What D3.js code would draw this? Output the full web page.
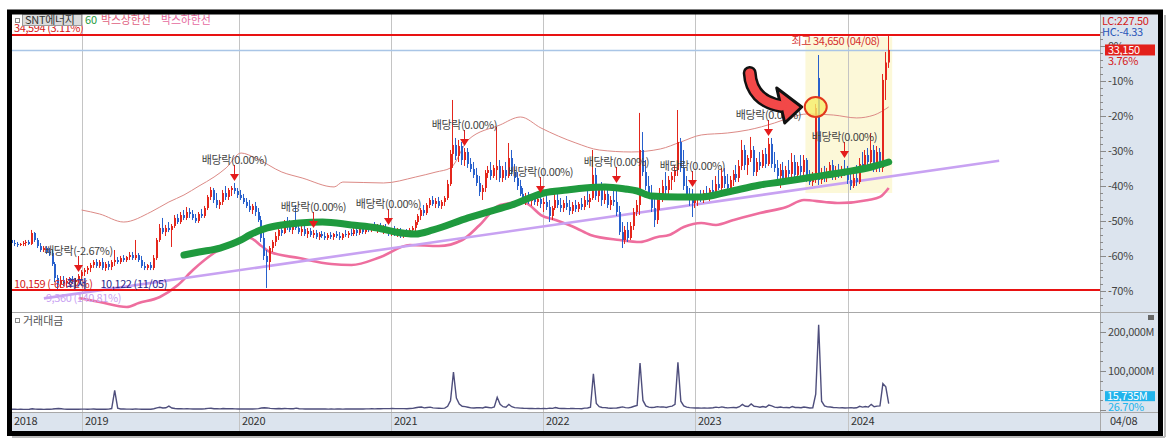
<!DOCTYPE html>
<html><head><meta charset="utf-8">
<script src="https://cdn.jsdelivr.net/npm/d3@7/dist/d3.min.js"></script>
<style>
html,body{margin:0;padding:0;background:#fff;}
svg text{font-family:"Noto Sans CJK KR","Noto Sans",sans-serif;}
</style></head>
<body><svg id="chart" width="1168" height="443"></svg>
<script>
// ---------------- DATA ----------------
const stockName = "SNT에너지";
const legendNames = ["60", "박스상한선", "박스하한선"];
const firstWeek = "2018-07-16";
// weekly candles [open, high, low, close] (원)
const weeklyOHLC = [
[14950,15240,14470,14660],[14660,14950,14370,14570],[14570,14760,14280,14470],[14470,14660,14370,14570],[14570,14850,14370,14660],
[14660,14950,14370,14760],[14760,14950,14470,14570],[14570,15910,14470,15620],[15620,15710,14760,14950],[14950,15140,14180,14370],
[14370,14660,13800,13990],[13990,14370,13800,14180],[14180,14370,13610,13800],[13800,14180,13420,13700],[13700,13990,12460,12650],
[12650,12840,10920,11310],[11310,11600,10122,10730],[10730,11500,10350,11120],[11120,11500,10540,10830],[10830,11310,10450,11020],
[11020,11400,10640,11210],[11210,11500,10730,10920],[10920,11310,10540,11120],[11120,11690,10830,11500],[11500,12070,11120,11880],
[11880,12270,11500,12070],[12070,12460,11690,12270],[12270,12750,11880,12550],[12550,13030,12270,12840],[12840,13130,12270,12460],
[12460,13030,12270,12840],[12840,13220,12070,12270],[12270,12840,11980,12650],[12650,12940,12070,12360],[12360,13030,12070,12840],
[12840,13990,12460,13030],[13030,13320,12650,12840],[12840,13420,12650,13220],[13220,13510,12840,13030],[13030,13420,12840,13320],
[13320,13800,13030,13510],[13510,13800,13030,13220],[13220,14950,13030,13510],[13510,13700,12840,13030],[13030,13420,12270,12460],
[12460,12840,12070,12270],[12270,12650,12070,12550],[12550,12840,12070,12270],[12270,13510,12070,13220],[13220,15140,13030,14950],
[14950,16480,14760,16100],[16100,17060,15520,15710],[15710,16390,15330,16100],[16100,16670,15710,15910],[15910,16480,14280,16290],
[16290,17340,16100,17060],[17060,17440,16480,16670],[16670,17630,16480,17340],[17340,17820,16860,17060],[17060,18110,16860,17630],
[17630,18010,17060,17440],[17440,17820,16860,17060],[17060,17440,16580,16770],[16770,17630,16580,17440],[17440,17920,17060,17250],
[17250,18210,17060,18010],[18010,19260,17820,19070],[19070,20030,18780,19740],[19740,19930,18490,18780],[18780,19450,18010,18300],
[18300,18780,17920,18590],[18590,19740,18300,19450],[19450,20120,18780,19070],[19070,19930,18780,19740],[19740,20120,19160,19930],
[19930,20410,19360,19640],[19640,19930,18970,19260],
[19260,19740,18780,18970],[18970,19360,18400,18590],[18590,18970,18010,18210],[18210,18780,17630,17820],[17820,18400,17440,18210],
[18210,18590,17250,17630],[17630,18010,16670,16860],[16860,17250,14760,15140],[15140,15710,13030,13420],[13420,13990,10350,12840],
[12840,14370,12070,14180],[14180,14950,13800,14760],[14760,15710,14370,15330],[15330,16290,14950,15910],[15910,16480,15330,15620],
[15620,16860,15520,16480],[16480,17150,15910,16190],[16190,16860,15710,15910],[15910,16670,15520,16290],[16290,18300,15910,16100],
[16100,16480,15520,15710],[15710,16290,15330,16000],[16000,16390,15330,15520],[15520,16100,15140,15810],[15810,16100,15240,15430],
[15430,15910,15140,15620],[15620,15910,15040,15240],[15240,15710,14950,15520],[15520,15810,15140,15330],[15330,15710,14950,15140],
[15140,15620,14950,15430],[15430,15710,15040,15240],[15240,15620,14950,15520],[15520,15810,15140,15330],[15330,15710,14950,15140],
[15140,15620,14950,15520],[15520,15910,15240,15430],[15430,15810,15140,15620],[15620,16000,15330,15520],[15520,16100,15330,15910],
[15910,16190,15330,15620],[15620,16100,15430,16000],[16000,16290,15520,15710],[15710,16290,15520,16100],[16100,16480,15710,15910],
[15910,16390,15710,16190],[16190,16670,15810,16000],[16000,16480,15620,16290],[16290,16580,15710,15910],[15910,16390,15520,16100],
[16100,16480,15710,15810],[15810,16190,15330,15620],
[15620,16100,15330,15910],[15910,16290,15330,15520],[15520,16100,15240,15810],[15810,16100,15140,15330],[15330,15910,15140,15710],
[15710,16000,15240,15430],[15430,16100,15240,15910],[15910,16290,15520,16100],[16100,16860,15810,16670],[16670,17440,16390,17250],
[17250,18010,16860,17820],[17820,18300,17250,17530],[17530,18490,17340,18300],[18300,18970,18010,18780],[18780,19160,18210,18400],
[18400,18970,18010,18680],[18680,19070,18010,18210],[18210,18780,17920,18590],[18590,19160,18210,18970],[18970,20700,18780,20310],
[20310,23570,20120,23190],[23190,28360,21850,24050],[24050,24720,22610,23000],[23000,24530,22420,23950],[23950,24340,22130,22610],
[22610,23760,22040,23380],[23380,23760,21850,22230],[22230,22800,21460,21750],[21750,22420,20890,21180],[21180,21850,20120,20410],
[20410,21080,19160,19550],[19550,20220,18780,19930],[19930,21650,19550,21370],[21370,22040,20890,21650],[21650,22420,20700,21080],
[21080,22130,20890,21850],[21650,25770,20700,22040],[22040,22610,20500,20890],[20890,22040,20500,21650],[21650,22420,20700,21080],
[21080,24240,20890,22800],[22800,23570,21080,21460],[21460,22230,20500,20890],[20890,21460,19740,20120],[20120,20700,19160,19360],
[19360,19930,18590,18780],[18780,19450,18300,19160],[19160,19550,18400,18680],[18680,19360,18210,18970],[18970,19360,18300,18590],
[18590,19160,18210,18880],[18880,19260,18010,18400],
[18400,18970,17630,18590],[18590,19160,17820,18110],[18110,18780,16670,17250],[17250,18210,16860,18010],[18010,19740,17820,18780],
[18780,19550,18010,18300],[18300,18970,17630,18010],[18010,18780,17630,18490],[18490,19160,17820,18110],[18110,18780,17340,17730],
[17730,18590,17440,18300],[18300,18780,17630,17920],[17920,18590,17630,18400],[18400,18970,17820,18110],[18110,19160,17820,18780],
[18780,19740,18300,18590],[18590,19360,18010,18970],[18970,23570,18780,21180],[21180,21850,18780,19160],[19160,20220,18590,19740],
[19740,20500,18210,18780],[18780,19930,18400,19360],[19360,19930,18010,18300],[18300,19160,17820,18780],[18780,19740,18210,18590],
[18590,20220,17250,17630],[17630,18210,15430,15710],[15710,16670,14180,14950],[14950,16290,14570,15910],[15910,16670,14760,15140],
[15140,16670,14950,16290],[16290,18010,15910,17630],[17630,18780,17250,18300],[18300,27120,17340,23570],[23570,25290,21080,21460],
[21460,22610,19740,20120],[20120,21080,19160,19450],[19450,20220,17630,18010],[18010,18970,16190,16860],[16860,19360,16480,18780],
[18780,19930,17820,19360],[19360,20700,18590,20120],[20120,21460,19160,19740],[19740,21080,19360,20700],[20700,21460,19740,21080],
[21080,22130,20500,21650],[21650,27400,21080,24340],[24340,24720,21460,21850],[21850,23570,19740,20120],[20120,21080,18780,19160],
[19160,19930,18210,18780],[18780,19830,17150,18490],
[18490,19260,18010,18780],[18780,19360,18210,19070],[19070,19740,18590,18880],[18880,19740,18490,19450],[19450,20120,18780,19160],
[19160,19930,18680,19740],[19740,20700,19160,19550],[19550,21080,18970,20310],[20310,21650,19740,19930],[19930,21850,19550,21080],
[21080,21850,19930,20310],[20310,21270,19550,19930],[19930,21080,19550,20700],[20700,21650,20120,21270],[21270,22130,20500,20890],
[20890,22610,20500,22040],[22040,24530,21650,23570],[23570,24050,21650,22130],[22130,23090,21180,22800],[22800,24820,22420,23570],
[23570,23950,21080,21460],[21460,22800,21080,22420],[22420,23380,21650,22040],[22040,23570,21850,23190],[23190,23760,21850,22230],
[22230,24720,22040,24150],[24150,24720,21850,22230],[22230,23380,21460,21850],[21850,22610,20700,21080],[21080,22230,19930,21650],
[21650,22420,20500,20890],[20890,22040,20500,21650],[21650,22610,20890,21270],[21270,23280,20700,22420],[22420,23090,20890,21180],
[21180,22420,20700,22040],[22040,23090,21080,21460],[21460,23090,20890,22610],[22610,22800,20500,20890],[20890,21650,20220,20500],
[20500,21460,20120,20700],[20700,27980,20410,27590],[30470,32670,20220,20700],[20700,21850,20310,21270],[21270,22040,20500,20890],
[20890,21850,20500,21460],[21460,22420,20890,22130],[22130,22610,20700,21080],[21080,22040,20700,21650],[21650,22230,20890,21270],
[21270,22040,20890,21750],[21750,22610,21080,21460],
[21460,22040,20310,20700],[20700,21460,19740,20120],[20120,21270,19930,20890],[20890,22130,20120,20500],[20500,22800,20310,22230],
[22230,23380,21650,22040],[22040,23570,21650,23090],[23090,23760,21850,22420],[22420,25200,22040,23570],[23570,24050,21460,21850],
[21850,23950,21460,23380],[23380,23760,21460,21850],[21850,30850,21460,30280],[30280,32960,28360,31950],[31950,34650,31430,33150]
];
// weekly trading value (백만원)
const tradingValue = [
1500,1300,1200,1400,1200,1100,1300,2500,1600,1400,1300,1200,1300,1400,2000,2800,3500,2600,1800,1500,1400,1300,1500,1600,1800,
1800,1600,1700,1900,1600,1500,1700,1600,1800,3200,50000,4200,2200,1900,1700,1800,1600,2400,1700,1500,
1400,1500,1400,2600,4800,6500,4500,5200,9500,4600,3300,2600,2800,2400,3000,2500,2200,2100,2400,2200,
2800,3600,4000,2800,2600,2300,3200,2800,2900,2700,2500,2200,
2300,2100,2000,2200,2100,2400,3000,4500,5200,4800,3600,3000,2800,3200,2600,3400,2900,2600,2700,4200,
2600,2300,2200,2100,2000,2200,2000,1900,2100,2000,1800,1900,1800,2000,1900,1800,1900,2000,2100,2300,
2000,2200,2100,2300,2400,2600,2500,2800,2700,3000,2900,3100,
3200,3000,2900,3100,3000,2800,3200,3600,5200,6500,7000,5000,6000,6800,5000,4200,3900,3600,4400,9000,
24000,97000,30000,15000,9000,8000,6500,5000,4500,5200,5500,4800,7000,6000,5000,7500,32000,14000,8000,6500,
14000,8000,5500,4800,4200,3800,3600,3400,3300,3100,3200,3000,
3200,3000,4200,3600,6000,4000,3200,3500,3000,3200,3600,3000,2900,2800,4200,4600,6500,92000,16000,8000,
6000,5500,4500,4000,4200,4500,6000,7500,5500,5000,6500,9000,11000,120000,24000,10000,7000,6000,6500,8000,
7000,7500,6000,8000,9500,14000,122000,22000,10000,7000,5500,5000,
4800,4500,4200,5000,4300,4800,5200,6800,5600,7500,5800,5000,5600,6000,5400,8000,14000,9000,8500,15000,
9000,8000,6500,8500,6500,12000,10000,7000,6000,7000,5500,5800,5200,8500,6000,5800,5200,7000,6000,4800,
5200,40000,218000,22000,10000,7500,7000,6000,5500,5000,5200,4800,
5000,5500,4800,5200,9000,7000,8500,7000,14000,8000,9500,10000,67000,58930,15735
];
// indicator lines: [week index, price]
const ma60Line = [[58,13510],[63,13800],[70,14180],[77,14950],[80,15430],[86,16100],[91,16390],[97,16580],[105,16670],[115,16390],[124,16100],[130,15710],[137,15520],[143,15910],[155,17060],[164,17820],[170,18300],[176,18970],[181,19450],[189,19740],[195,19930],[202,20030],[209,19830],[213,19640],[218,19160],[227,19070],[235,19070],[244,19550],[255,20220],[262,20500],[273,20980],[284,21460],[293,21940],[299,22420]];
const boxUpperLine = [[24,17820],[30,17440],[38,16670],[47,17630],[53,18590],[58,19260],[63,20120],[68,20980],[72,21850],[77,23280],[82,22800],[91,21460],[98,20890],[109,20030],[112,20500],[126,20410],[137,20980],[144,21460],[149,21850],[155,24530],[166,25970],[173,26730],[180,25680],[192,24240],[200,23570],[211,23380],[221,23670],[228,24340],[235,25010],[244,25200],[251,25490],[260,26160],[266,26730],[271,27020],[280,26920],[288,26640],[294,26920],[299,27690]];
const boxLowerLine = [[23,9390],[30,9010],[39,8530],[43,8910],[50,9490],[56,10640],[61,12070],[68,13700],[74,14660],[80,15140],[84,14370],[87,13800],[97,13220],[108,12650],[115,12550],[125,13320],[135,14470],[145,14370],[153,14950],[159,16390],[166,18300],[174,18590],[176,18300],[180,17340],[185,16860],[192,16100],[197,15430],[207,14950],[214,14760],[220,15240],[224,15430],[229,16190],[235,16580],[240,16390],[246,16860],[255,17530],[264,18110],[270,18780],[277,18590],[282,18490],[292,18780],[296,19070],[299,19930]];
const trendLine = [["2018-10-01",9360],["2024-12-30",22540]];
const trendLabel = "9,360 (140.81%)";
// dividend (배당락) weeks and rates
const dividendWeeks = [23,75,102,128,154,180,206,232,258,284];
const dividendRates = ["-2.67","0.00","0.00","0.00","0.00","0.00","0.00","0.00","0.00","0.00"];
// horizontal price lines and references
const priceLines = [34594, 10159];
const priceLineLabels = ["34,594 (3.11%)", "10,159 (-69.72%)"];
const refPrice = 33550;
const lastClose = 33150, lastChangeText = "3.76%";
const highInfo = {week: 299, price: 34650, text: "최고 34,650 (04/08)"};
const lowInfo = {week: 16, price: 10122, text: "10,122 (11/05)"};
const lcText = "LC:227.50", hcText = "HC:-4.33";
const lastValueText = "15,735M", lastValueRatio = "26.70%";
const yearLabels = ["2018","2019","2020","2021","2022","2023","2024"];
const lastDateLabel = "04/08";
const pctTicks = [0,-10,-20,-30,-40,-50,-60,-70];
const volTicks = [100000, 200000];
const highlightWeeks = [271, 299];
const highlightPrices = [34400, 19450];
const circleMark = {week: 274, price: 27690};

// ---------------- LAYOUT ----------------
const svg = d3.select("#chart");
const L = 12, R = 1100, T = 14, PB = 312, VB = 412, BB = 431, AX = 1158;
const RED = "#e4261c", BLUE = "#2860cc";
const parse = d3.utcParse("%Y-%m-%d");
const start = parse(firstWeek);
const weeks = d3.utcMonday.range(start, d3.utcDay.offset(start, 7 * weeklyOHLC.length));

const x = d3.scaleUtc()
  .domain(["2018-07-16","2019-01-01","2020-01-01","2021-01-01","2022-01-01","2023-01-01","2024-01-01","2025-01-01"].map(parse))
  .range([12, 82, 239, 391, 543, 695, 848, 1000]);
const y = d3.scaleLinear().domain([10159, 34594]).range([290, 34.9]);
const yPct = p => y(refPrice * (1 + p / 100));
const yv = d3.scaleLinear().domain([0, 200000]).range([409.8, 331.8]);

const defs = svg.append("defs");
defs.append("clipPath").attr("id","cp").append("rect").attr("x",L).attr("y",T).attr("width",R-L).attr("height",PB-T);
defs.append("clipPath").attr("id","cv").append("rect").attr("x",L).attr("y",PB+1).attr("width",R-L).attr("height",VB-PB-1);

svg.append("rect").attr("width",1168).attr("height",443).attr("fill","#fff");
// right axis panel & label bar
svg.append("rect").attr("x",R).attr("y",T).attr("width",AX-R).attr("height",BB-T).attr("fill","#dce4ee");
svg.append("rect").attr("x",L).attr("y",VB).attr("width",AX-L).attr("height",BB-VB).attr("fill","#dce4ee");

// highlight box
svg.append("rect")
  .attr("x", x(weeks[highlightWeeks[0]]) - 1.5)
  .attr("y", y(highlightPrices[0]))
  .attr("width", x(weeks[highlightWeeks[1]]) - x(weeks[highlightWeeks[0]]) + 5)
  .attr("height", y(highlightPrices[1]) - y(highlightPrices[0]))
  .attr("fill","#fcf8d8");

// year gridlines
const yearDates = yearLabels.slice(1).map(s => parse(s + "-01-01"));
svg.selectAll(".vg").data(yearDates).join("line")
  .attr("x1", d => Math.round(x(d)) + 0.5).attr("x2", d => Math.round(x(d)) + 0.5)
  .attr("y1", T).attr("y2", BB).attr("stroke","#c4c4c4").attr("stroke-width",1);

// separators
svg.append("line").attr("x1",L).attr("x2",AX).attr("y1",PB+0.5).attr("y2",PB+0.5).attr("stroke","#a8a8a8");
svg.append("line").attr("x1",L).attr("x2",AX).attr("y1",VB+0.5).attr("y2",VB+0.5).attr("stroke","#a8a8a8");
svg.append("line").attr("x1",R+0.5).attr("x2",R+0.5).attr("y1",T).attr("y2",BB).attr("stroke","#a8a8a8");

// current price line
svg.append("line").attr("x1",L).attr("x2",R).attr("y1",Math.round(y(lastClose))+0.5).attr("y2",Math.round(y(lastClose))+0.5)
  .attr("stroke","#a9c5e6").attr("stroke-width",1.5);

const gp = svg.append("g").attr("clip-path","url(#cp)");

// box lines
const lineGen = d3.line().x(d => x(weeks[d[0]])).y(d => y(d[1])).curve(d3.curveMonotoneX);
gp.append("path").attr("d", lineGen(boxUpperLine)).attr("fill","none").attr("stroke","#dc8a86").attr("stroke-width",1);
gp.append("path").attr("d", lineGen(boxLowerLine)).attr("fill","none").attr("stroke","#ee6e9e").attr("stroke-width",2.6);
// trend line
gp.append("line")
  .attr("x1", x(parse(trendLine[0][0]))).attr("y1", y(trendLine[0][1]))
  .attr("x2", x(parse(trendLine[1][0]))).attr("y2", y(trendLine[1][1]))
  .attr("stroke","#c8a2f2").attr("stroke-width",2.6);

// candles
const cg = gp.append("g");
weeklyOHLC.forEach((c, i) => {
  const cx = Math.round(x(weeks[i]));
  const up = c[3] >= c[0];
  const col = up ? RED : BLUE;
  cg.append("line").attr("x1",cx-0.5).attr("x2",cx-0.5).attr("y1",y(c[1])).attr("y2",y(c[2])).attr("stroke",col).attr("stroke-width",1);
  const y0 = y(Math.max(c[0], c[3])), y1 = y(Math.min(c[0], c[3]));
  cg.append("rect").attr("x",cx-1).attr("width",2).attr("y",y0).attr("height",Math.max(1, y1 - y0)).attr("fill",col);
});

// MA60 green
gp.append("path").attr("d", lineGen(ma60Line)).attr("fill","none").attr("stroke","#1f9a3e").attr("stroke-width",7).attr("stroke-linecap","round");

// red horizontal lines
svg.selectAll(".hl").data(priceLines).join("line")
  .attr("x1",L).attr("x2",R).attr("y1",d=>y(d)).attr("y2",d=>y(d)).attr("stroke","#e81212").attr("stroke-width",2);

// dividend markers
const fs = "11px";
dividendWeeks.forEach((w, k) => {
  const cx = Math.round(x(weeks[w])) - 0.5;
  const tip = y(weeklyOHLC[w][1]) - 2;
  svg.append("line").attr("x1",cx).attr("x2",cx).attr("y1",tip-16).attr("y2",tip-6).attr("stroke","#e02020").attr("stroke-width",1);
  svg.append("path").attr("d",`M${cx-4.5},${tip-7}L${cx+4.5},${tip-7}L${cx},${tip}Z`).attr("fill","#e41c1c");
  svg.append("text").attr("x",cx).attr("y",tip-17).attr("text-anchor","middle")
    .attr("font-size",fs).attr("letter-spacing","-0.4").attr("fill","#444").text(`배당락(${dividendRates[k]}%)`);
});

// labels in upper panel
svg.append("text").attr("x",14).attr("y",y(priceLines[0])-3).attr("font-size",fs).attr("letter-spacing","-0.4").attr("fill","#d42020").text(priceLineLabels[0]);
svg.append("text").attr("x",14).attr("y",y(priceLines[1])-2).attr("font-size",fs).attr("letter-spacing","-0.4").attr("fill","#d42020").text(priceLineLabels[1]);
const lowX = x(weeks[lowInfo.week]);
svg.append("text").attr("x",lowX+8).attr("y",y(priceLines[1])-2).attr("font-size",fs).attr("font-weight","bold").attr("fill","#3a3a9a").text("최저");
svg.append("text").attr("x",lowX+42).attr("y",y(priceLines[1])-2).attr("font-size",fs).attr("letter-spacing","-0.4").attr("fill","#2a2a8a").text(lowInfo.text);
svg.append("text").attr("x",x(parse(trendLine[0][0]))+2).attr("y",y(trendLine[0][1])+4).attr("font-size",fs).attr("letter-spacing","-0.4").attr("fill","#c8a2f2").text(trendLabel);
const hiX = x(weeks[highInfo.week]);
svg.append("text").attr("x",hiX-9).attr("y",y(highInfo.price)+11).attr("text-anchor","end").attr("font-size",fs).attr("letter-spacing","-0.4").attr("fill","#d43030").text(highInfo.text);

// legend
svg.append("rect").attr("x",15.5).attr("y",18.5).attr("width",4).attr("height",4).attr("fill","#fff").attr("stroke","#888");
svg.append("rect").attr("x",22.5).attr("y",14.5).attr("width",59).attr("height",11).attr("fill","#dcdcdc").attr("stroke","#9a9a9a");
svg.append("text").attr("x",25).attr("y",24).attr("font-size",fs).attr("letter-spacing","-0.3").attr("fill","#333").text(stockName);
svg.append("text").attr("x",85).attr("y",24).attr("font-size",fs).attr("fill","#1f9a3e").text(legendNames[0]);
svg.append("text").attr("x",101).attr("y",24).attr("font-size",fs).attr("letter-spacing","-0.2").attr("fill","#e0607e").text(legendNames[1]);
svg.append("text").attr("x",161).attr("y",24).attr("font-size",fs).attr("letter-spacing","-0.2").attr("fill","#e66aa0").text(legendNames[2]);

// right percent axis
for (let p = 4; p >= -76; p -= 2) {
  const yy = Math.round(yPct(p)) + 0.5;
  if (yy < T + 2 || yy > PB - 2) continue;
  const major = p % 10 === 0;
  svg.append("line").attr("x1",R).attr("x2",R + (major ? 6 : 3)).attr("y1",yy).attr("y2",yy).attr("stroke","#8a8a8a");
}
pctTicks.forEach(p => {
  svg.append("text").attr("x",R+8).attr("y",yPct(p)+4).attr("font-size",fs).attr("letter-spacing","-0.3").attr("fill","#444").text(p + "%");
});
svg.append("text").attr("x",R+2).attr("y",25).attr("font-size",fs).attr("letter-spacing","-0.3").attr("fill","#d42020").text(lcText);
svg.append("text").attr("x",R+2).attr("y",36).attr("font-size",fs).attr("letter-spacing","-0.3").attr("fill","#2a55b8").text(hcText);
const yc = y(lastClose);
svg.append("rect").attr("x",R+5).attr("y",yc-5.5).attr("width",50).attr("height",11).attr("fill","#e3201b");
svg.append("text").attr("x",R+8).attr("y",yc+4).attr("font-size",fs).attr("letter-spacing","-0.3").attr("fill","#fff").text(d3.format(",")(lastClose));
svg.append("text").attr("x",R+8).attr("y",yc+15).attr("font-size",fs).attr("letter-spacing","-0.3").attr("fill","#d42020").text(lastChangeText);

// volume panel
svg.append("rect").attr("x",15.5).attr("y",318.5).attr("width",4).attr("height",4).attr("fill","#fff").attr("stroke","#888");
svg.append("text").attr("x",23).attr("y",325).attr("font-size",fs).attr("fill","#555").text("거래대금");
const vLine = d3.line().x((d,i) => x(weeks[i])).y(d => yv(d));
svg.append("path").attr("clip-path","url(#cv)").attr("d", vLine(tradingValue)).attr("fill","none").attr("stroke","#4e4e7c").attr("stroke-width",1.4);
for (let v = 0; v <= 240000; v += 25000) {
  const yy = Math.round(yv(v)) + 0.5;
  if (yy < PB + 4 || yy > VB - 1) continue;
  const major = v % 100000 === 0;
  svg.append("line").attr("x1",R).attr("x2",R + (major ? 6 : 3)).attr("y1",yy).attr("y2",yy).attr("stroke","#8a8a8a");
}
volTicks.forEach(v => {
  svg.append("text").attr("x",R+8).attr("y",yv(v)+4).attr("font-size",fs).attr("letter-spacing","-0.3").attr("fill","#444").text(d3.format(",")(v) + "M");
});
const lastV = tradingValue[tradingValue.length-1];
const yl = yv(lastV) - 7;
svg.append("rect").attr("x",R+5).attr("y",yl-5.5).attr("width",50).attr("height",10).attr("fill","#22b4ec");
svg.append("text").attr("x",R+7).attr("y",yl+3.5).attr("font-size",fs).attr("letter-spacing","-0.3").attr("fill","#fff").text(lastValueText);
svg.append("text").attr("x",R+8).attr("y",yl+14).attr("font-size",fs).attr("letter-spacing","-0.3").attr("fill","#22b4ec").text(lastValueRatio);
svg.append("rect").attr("x",1148).attr("y",315).attr("width",6).attr("height",5).attr("fill","#666");

// x labels
svg.append("text").attr("x",L+2).attr("y",425).attr("font-size",fs).attr("letter-spacing","-0.3").attr("fill","#333").text(yearLabels[0]);
yearDates.forEach((d,k) => {
  svg.append("text").attr("x",Math.round(x(d))+3).attr("y",425).attr("font-size",fs).attr("letter-spacing","-0.3").attr("fill","#333").text(yearLabels[k+1]);
});
svg.append("text").attr("x",R+10).attr("y",425).attr("font-size",fs).attr("letter-spacing","-0.3").attr("fill","#333").text(lastDateLabel);

// annotation: circle + curved arrow
const ax = x(weeks[circleMark.week]), ay = y(circleMark.price);
const shaft = `M${ax-66},${ay-34} C${ax-65},${ay-16} ${ax-54},${ay-4} ${ax-34},${ay-1}`;
svg.append("path").attr("d",shaft).attr("fill","none").attr("stroke","#111").attr("stroke-width",14).attr("stroke-linecap","round");
svg.append("path").attr("d",`M${ax-39},${ay-19} L${ax-14},${ay} L${ax-31},${ay+16} Z`).attr("fill","#f24848").attr("stroke","#111").attr("stroke-width",3).attr("stroke-linejoin","round");
svg.append("path").attr("d",shaft).attr("fill","none").attr("stroke","#f24848").attr("stroke-width",9).attr("stroke-linecap","round");
svg.append("ellipse").attr("cx",ax).attr("cy",ay).attr("rx",11).attr("ry",10)
  .attr("fill","#f6ee6a").attr("fill-opacity",0.8).attr("stroke","#e2381c").attr("stroke-width",2);

// frame
svg.append("rect").attr("x",9.5).attr("y",12).attr("width",1151).attr("height",421.5).attr("fill","none").attr("stroke","#000").attr("stroke-width",5);
svg.append("line").attr("x1",12).attr("x2",1165).attr("y1",437).attr("y2",437).attr("stroke","#bbb").attr("stroke-width",2);
svg.append("line").attr("x1",1165).attr("x2",1165).attr("y1",15).attr("y2",437).attr("stroke","#bbb").attr("stroke-width",2);
</script></body></html>
